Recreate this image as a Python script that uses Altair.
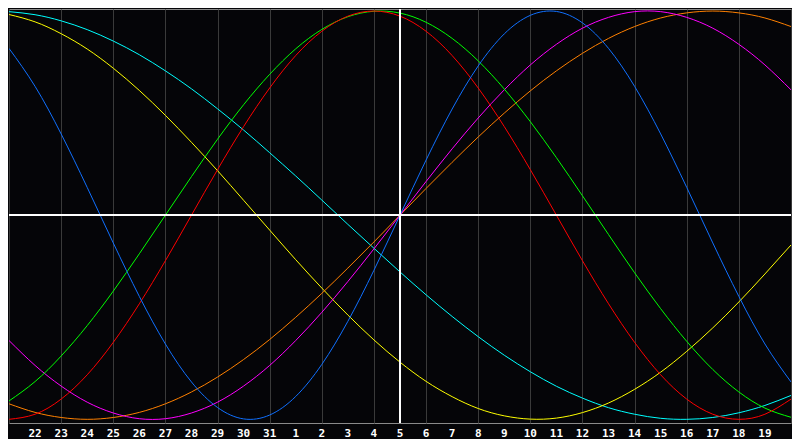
import altair as alt
import pandas as pd

# day labels for index 0..30 (21st of previous month .. 20th)
day_labels = ["21", "22", "23", "24", "25", "26", "27", "28", "29", "30", "31",
              "1", "2", "3", "4", "5", "6", "7", "8", "9", "10", "11", "12", "13",
              "14", "15", "16", "17", "18", "19", "20"]

# cycle values (percent) read per day
physical = [81.7, 63.1, 39.8, 13.6, -13.6, -39.8, -63.1, -81.7, -94.2, -99.8, -97.9, -88.8,
            -73.1, -52.0, -27.0, 0, 27.0, 52.0, 73.1, 88.8, 97.9, 99.8, 94.2, 81.7, 63.1,
            39.8, 13.6, -13.6, -39.8, -63.1, -81.7]
emotional = [-100, -97.5, -90.1, -78.2, -62.3, -43.4, -22.3, 0, 22.3, 43.4, 62.3, 78.2, 90.1,
             97.5, 100, 97.5, 90.1, 78.2, 62.3, 43.4, 22.3, 0, -22.3, -43.4, -62.3, -78.2,
             -90.1, -97.5, -100, -97.5, -90.1]
intellectual = [-91.0, -81.5, -69.0, -54.1, -37.2, -18.9, 0, 18.9, 37.2, 54.1, 69.0, 81.5,
                91.0, 97.2, 99.9, 99.0, 94.5, 86.6, 75.6, 61.8, 45.8, 28.2, 9.5, -9.5, -28.2,
                -45.8, -61.8, -75.6, -86.6, -94.5, -99.0]
intuitive = [-61.4, -73.6, -83.7, -91.6, -96.9, -99.7, -99.7, -96.9, -91.6, -83.7, -73.6,
             -61.4, -47.6, -32.5, -16.5, 0, 16.5, 32.5, 47.6, 61.4, 73.6, 83.7, 91.6, 96.9,
             99.7, 99.7, 96.9, 91.6, 83.7, 73.6, 61.4]
aesthetic = [98.3, 94.7, 88.9, 81.4, 72.0, 61.1, 48.9, 35.7, 21.8, 7.3, -7.3, -21.8, -35.7,
             -48.9, -61.1, -72.0, -81.4, -88.9, -94.7, -98.3, -99.9, -99.4, -96.7, -92.0,
             -85.3, -76.9, -66.7, -55.2, -42.5, -28.8, -14.6]
awareness = [-92.4, -96.6, -99.1, -100, -99.1, -96.6, -92.4, -86.6, -79.3, -70.7, -60.9, -50,
             -38.3, -25.9, -13.1, 0, 13.1, 25.9, 38.3, 50, 60.9, 70.7, 79.3, 86.6, 92.4, 96.6,
             99.1, 100, 99.1, 96.6, 92.4]
spiritual = [99.7, 98.2, 95.2, 90.9, 85.3, 78.6, 70.7, 61.9, 52.1, 41.7, 30.6, 19.2, 7.4,
             -4.5, -16.2, -27.8, -39.0, -49.6, -59.5, -68.6, -76.7, -83.8, -89.6, -94.3,
             -97.5, -99.5, -100.0, -99.1, -96.8, -93.2, -88.3]

series_names = ["spiritual", "aesthetic", "awareness", "intuitive", "intellectual", "emotional", "physical"]
series_colors = ["#00ffff", "#ffff00", "#ff8000", "#ff00ff", "#00ff00", "#ff0000", "#1070ff"]
series_values = [spiritual, aesthetic, awareness, intuitive, intellectual, emotional, physical]
today_index = 15

W, H = 782, 414

rows = []
for name, vals in zip(series_names, series_values):
    for i, v in enumerate(vals):
        rows.append({"i": i, "v": v, "series": name})
df = pd.DataFrame(rows)

labels_df = pd.DataFrame({"i": list(range(1, len(day_labels) - 1)),
                          "label": day_labels[1:-1]})

xscale = alt.Scale(domain=[0, len(day_labels) - 1], nice=False, zero=False)

lines = alt.Chart(df).mark_line(interpolate="natural", strokeWidth=1, clip=True).encode(
    x=alt.X("i:Q", scale=xscale,
            axis=alt.Axis(values=list(range(0, len(day_labels))), grid=True,
                          gridColor="#3a3a3a", gridWidth=1, domain=False, ticks=False,
                          labels=False, title=None)),
    y=alt.Y("v:Q", scale=alt.Scale(domain=[-101.8, 101], nice=False, zero=False), axis=None),
    color=alt.Color("series:N", scale=alt.Scale(domain=series_names, range=series_colors), legend=None),
)

hrule = alt.Chart(df).mark_rule(color="white", strokeWidth=1).encode(y=alt.datum(0))
vrule = alt.Chart(df).mark_rule(color="white", strokeWidth=1).encode(x=alt.datum(today_index))

texts = alt.Chart(labels_df).mark_text(
    color="white", font="DejaVu Sans Mono", fontWeight="bold", fontSize=11,
    baseline="top", align="center"
).encode(x=alt.X("i:Q"), y=alt.value(H + 5), text="label:N")

chart = alt.layer(lines, hrule, vrule, texts).properties(
    width=W, height=H,
    background="#050508",
    padding={"left": 1, "top": 1, "right": 1, "bottom": 16},
    autosize=alt.AutoSizeParams(type="none"),
).configure_view(stroke="#8a8a8a", strokeWidth=1)

chart.save("out.html", embed_options={"renderer": "svg", "actions": False})
